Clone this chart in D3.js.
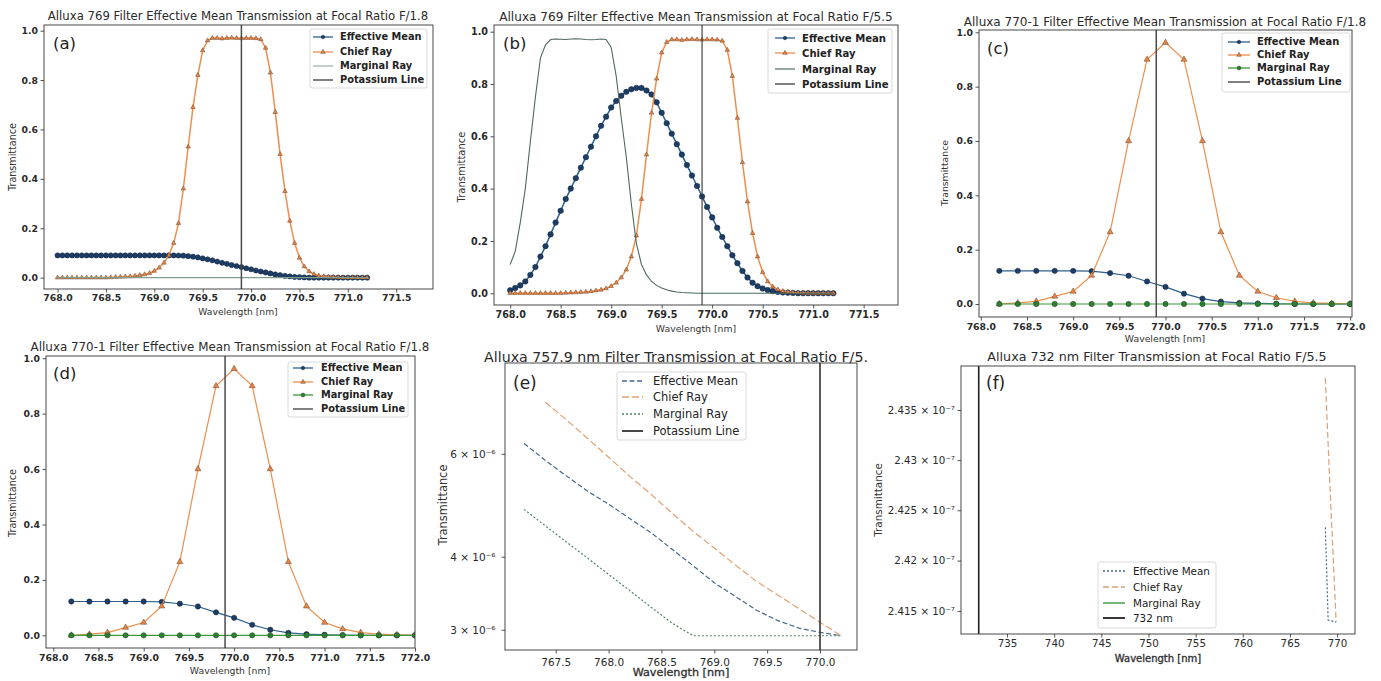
<!DOCTYPE html>
<html><head><meta charset="utf-8">
<script src="https://cdn.jsdelivr.net/npm/d3@7"></script>
<style>
body{margin:0;background:#fff}
svg{display:block;font-family:"DejaVu Sans",sans-serif}
</style>
</head><body>
<svg id="c" width="1381" height="681"></svg>
<script>
// ---------------- DATA ----------------
const wlAB = [
 768.00,768.05,768.10,768.15,768.20,768.25,768.30,768.35,768.40,768.45,
 768.50,768.55,768.60,768.65,768.70,768.75,768.80,768.85,768.90,768.95,
 769.00,769.05,769.10,769.15,769.20,769.25,769.30,769.35,769.40,769.45,
 769.50,769.55,769.60,769.65,769.70,769.75,769.80,769.85,769.90,769.95,
 770.00,770.05,770.10,770.15,770.20,770.25,770.30,770.35,770.40,770.45,
 770.50,770.55,770.60,770.65,770.70,770.75,770.80,770.85,770.90,770.95,
 771.00,771.05,771.10,771.15,771.20];
const chiefAB = [
 0,0,0,0,0,0,0,0,0,0,
 0,0.001,0.002,0.003,0.004,0.005,0.007,0.010,0.013,0.018,
 0.027,0.040,0.060,0.090,0.140,0.220,0.360,0.530,0.690,0.820,
 0.920,0.960,0.970,0.970,0.968,0.970,0.971,0.970,0.969,0.970,
 0.970,0.969,0.965,0.930,0.830,0.670,0.500,0.350,0.230,0.140,
 0.080,0.045,0.025,0.014,0.008,0.005,0.003,0.002,0.001,0,
 0,0,0,0,0];
const effA = [
 0.090,0.090,0.090,0.090,0.090,0.090,0.090,0.090,0.090,0.090,
 0.090,0.090,0.090,0.090,0.090,0.090,0.090,0.090,0.090,0.090,
 0.090,0.090,0.090,0.090,0.090,0.0895,0.089,0.087,0.085,0.082,
 0.078,0.074,0.070,0.065,0.060,0.056,0.051,0.047,0.043,0.038,
 0.034,0.029,0.025,0.021,0.017,0.013,0.010,0.007,0.005,0.003,
 0.002,0.001,0,0,0,0,0,0,0,0,
 0,0,0,0,0];
const margA = [
 0,0,0,0,0,0,0,0,0,0,
 0,0,0,0,0,0,0,0,0,0,
 0,0,0,0,0,0,0,0,0,0,
 0,0,0,0,0,0,0,0,0,0,
 0,0,0,0,0,0,0,0,0,0,
 0,0,0,0,0,0,0,0,0,0,
 0,0,0,0,0];
const effB = [
 0.011,0.020,0.030,0.045,0.070,0.100,0.140,0.180,0.225,0.270,
 0.315,0.360,0.400,0.440,0.480,0.520,0.560,0.600,0.640,0.675,
 0.710,0.735,0.755,0.770,0.780,0.785,0.785,0.775,0.760,0.730,
 0.690,0.650,0.610,0.570,0.530,0.490,0.450,0.410,0.370,0.330,
 0.290,0.250,0.215,0.180,0.145,0.115,0.085,0.060,0.040,0.027,
 0.018,0.012,0.008,0.005,0.003,0.002,0.001,0,0,0,
 0,0,0,0,0];
const margB = [
 0.110,0.160,0.270,0.400,0.580,0.750,0.900,0.950,0.970,0.972,
 0.971,0.970,0.972,0.973,0.972,0.970,0.969,0.970,0.972,0.970,
 0.940,0.830,0.670,0.520,0.340,0.190,0.110,0.070,0.045,0.030,
 0.020,0.013,0.008,0.005,0.003,0.002,0.001,0,0,0,
 0,0,0,0,0,0,0,0,0,0,
 0,0,0,0,0,0,0,0,0,0,
 0,0,0,0,0];

const wlCD = [768.2,768.4,768.6,768.8,769.0,769.2,769.4,769.6,769.8,770.0,
              770.2,770.4,770.6,770.8,771.0,771.2,771.4,771.6,771.8,772.0];
const chiefCD = [0.000,0.004,0.010,0.028,0.046,0.105,0.265,0.600,0.900,0.962,
                 0.900,0.600,0.265,0.105,0.046,0.023,0.010,0.004,0.002,0.001];
const effCD   = [0.122,0.122,0.122,0.122,0.122,0.121,0.114,0.104,0.083,0.063,
                 0.038,0.020,0.009,0.004,0.002,0.001,0,0,0,0];
const margCD  = [0,0,0,0,0,0,0,0,0,0, 0,0,0,0,0,0,0,0,0,0];

const wlE = [767.2,767.4,767.6,767.8,768.0,768.2,768.4,768.6,768.8,769.0,769.2,769.4,769.6,769.8,770.0,770.2];
const chiefE = [null,7.36e-6,6.86e-6,6.38e-6,5.92e-6,5.49e-6,5.12e-6,4.75e-6,4.42e-6,4.14e-6,3.87e-6,3.63e-6,3.44e-6,3.26e-6,3.09e-6,2.93e-6];
const effE   = [6.25e-6,5.85e-6,5.50e-6,5.18e-6,4.92e-6,4.65e-6,4.40e-6,4.12e-6,3.86e-6,3.61e-6,3.42e-6,3.24e-6,3.11e-6,3.02e-6,2.97e-6,2.93e-6];
const margE  = [4.82e-6,4.52e-6,4.24e-6,3.98e-6,3.73e-6,3.50e-6,3.28e-6,3.08e-6,2.93e-6,2.93e-6,2.93e-6,2.93e-6,2.93e-6,2.93e-6,2.93e-6,2.93e-6];

const wlFEff = [768.75,768.9,769.05,769.9];
const effF   = [2.4233e-7,2.4190e-7,2.4141e-7,2.4139e-7];
const wlFChief = [768.75,769.3,769.9];
const chiefF   = [2.4382e-7,2.4262e-7,2.4139e-7];

const potassiumNm = 769.9;
const potassiumE = 770.0;
const lineF = 732;

const ticksXAB = [768.0,768.5,769.0,769.5,770.0,770.5,771.0,771.5];
const ticksXCD = [768.0,768.5,769.0,769.5,770.0,770.5,771.0,771.5,772.0];
const ticksY01 = [0,0.2,0.4,0.6,0.8,1.0];
const ticksXE = [767.5,768.0,768.5,769.0,769.5,770.0];
const ticksYE = [3e-6,4e-6,6e-6];
const ticksYELabels = ["3 × 10⁻⁶","4 × 10⁻⁶","6 × 10⁻⁶"];
const ticksXF = [735,740,745,750,755,760,765,770];
const ticksYF = [2.415e-7,2.42e-7,2.425e-7,2.43e-7,2.435e-7];
const ticksYFLabels = ["2.415 × 10⁻⁷","2.42 × 10⁻⁷","2.425 × 10⁻⁷","2.43 × 10⁻⁷","2.435 × 10⁻⁷"];

const legendABCD = ["Effective Mean","Chief Ray","Marginal Ray","Potassium Line"];
const legendF = ["Effective Mean","Chief Ray","Marginal Ray","732 nm"];

// ---------------- STYLES ----------------
const C = {
  blue:"#2d5f8f", blueM:"#1d3d64", blueMS:"#0f2440",
  orange:"#ec8f4e", orangeM:"#e58545", orangeMS:"#6e4530",
  green:"#3a9a3a", greenM:"#2e7d32", greenMS:"#1b4d1e",
  k:"#4a4a4a"
};

const svg = d3.select("#c");
let clipN = 0;

function drawPanel(p) {
  const [bx0, by0, bx1, by1] = p.box;
  const g = svg.append("g");
  const x = d3.scaleLinear().domain(p.xDomain).range([bx0, bx1]);
  const y = (p.log ? d3.scaleLog() : d3.scaleLinear()).domain(p.yDomain).range([by1, by0]);
  const cid = "clip" + (clipN++);
  svg.append("clipPath").attr("id", cid).append("rect")
    .attr("x", bx0).attr("y", by0).attr("width", bx1 - bx0).attr("height", by1 - by0);
  const plot = g.append("g").attr("clip-path", `url(#${cid})`);

  p.series.forEach(s => {
    const pts = s.x.map((xv, i) => [xv, s.y[i]]);
    const line = d3.line().defined(d => d[1] != null).x(d => x(d[0])).y(d => y(d[1]));
    plot.append("path").attr("d", line(pts)).attr("fill", "none")
      .attr("stroke", s.color).attr("stroke-width", s.width)
      .attr("stroke-dasharray", s.dash || null);
    if (s.marker) {
      const sym = d3.symbol().type(s.marker === "tri" ? d3.symbolTriangle : d3.symbolCircle).size(s.msize);
      plot.selectAll(null).data(pts.filter(d => d[1] != null)).enter().append("path")
        .attr("transform", d => `translate(${x(d[0])},${y(d[1])})`)
        .attr("d", sym).attr("fill", s.mfill).attr("stroke", s.mstroke).attr("stroke-width", 0.5);
    }
  });
  if (p.vline) {
    plot.append("line").attr("x1", x(p.vline.x)).attr("x2", x(p.vline.x))
      .attr("y1", by0).attr("y2", by1).attr("stroke", p.vline.color).attr("stroke-width", p.vline.width);
  }

  // axes
  const xa = d3.axisBottom(x).tickValues(p.xTicks).tickFormat(p.xFmt).tickSize(3.5).tickPadding(p.xPad);
  const gx = g.append("g").attr("transform", `translate(0,${by1})`).call(xa);
  const ya = d3.axisLeft(y).tickValues(p.yTicks).tickFormat(p.yFmt).tickSize(3.5).tickPadding(p.yPad);
  const gy = g.append("g").attr("transform", `translate(${bx0},0)`).call(ya);
  [gx, gy].forEach(a => {
    a.select(".domain").remove();
    a.attr("font-family", null).attr("font-size", p.tickFs).attr("font-weight", p.tickFw)
      .attr("color", "#2a2a2a");
    a.selectAll("line").attr("stroke-width", 0.8);
  });
  // frame
  g.append("rect").attr("x", bx0).attr("y", by0).attr("width", bx1 - bx0).attr("height", by1 - by0)
    .attr("fill", "none").attr("stroke", "#333").attr("stroke-width", 0.9);

  // title & labels
  g.append("text").attr("x", p.title.x).attr("y", p.title.y).attr("text-anchor", "middle")
    .attr("font-size", p.title.fs).attr("fill", "#2a2a2a").text(p.title.text);
  g.append("text").attr("x", p.xlabel.x).attr("y", p.xlabel.y).attr("dy", "0.35em").attr("text-anchor", "middle")
    .attr("font-size", p.xlabel.fs).attr("fill", "#333")
    .attr("stroke", p.xlabel.heavy ? "#333" : null).attr("stroke-width", p.xlabel.heavy ? 0.35 : null)
    .text("Wavelength [nm]");
  g.append("text").attr("transform", `translate(${p.ylabel.x},${p.ylabel.y}) rotate(-90)`)
    .attr("dy", "0.35em").attr("text-anchor", "middle")
    .attr("font-size", p.ylabel.fs).attr("fill", "#333").text("Transmittance");
  g.append("text").attr("x", p.tag.x).attr("y", p.tag.y).attr("font-size", p.tag.fs).attr("fill", "#222").text(p.tag.text);

  // legend
  const L = p.legend;
  g.append("rect").attr("x", L.box[0]).attr("y", L.box[1]).attr("width", L.box[2]).attr("height", L.box[3])
    .attr("rx", 2).attr("fill", "#fff").attr("fill-opacity", 0.85).attr("stroke", "#cfcfcf").attr("stroke-width", 0.8);
  L.items.forEach((it, i) => {
    const ry = L.rows[i];
    g.append("line").attr("x1", L.hx[0]).attr("x2", L.hx[1]).attr("y1", ry).attr("y2", ry)
      .attr("stroke", it.color).attr("stroke-width", it.width).attr("stroke-dasharray", it.dash || null);
    if (it.marker) {
      const sym = d3.symbol().type(it.marker === "tri" ? d3.symbolTriangle : d3.symbolCircle).size(it.msize);
      g.append("path").attr("transform", `translate(${(L.hx[0] + L.hx[1]) / 2},${ry})`)
        .attr("d", sym).attr("fill", it.mfill).attr("stroke", it.mstroke).attr("stroke-width", 0.5);
    }
    g.append("text").attr("x", L.tx).attr("y", ry).attr("dy", "0.35em")
      .attr("font-size", L.fs).attr("font-weight", L.fw).attr("fill", "#222").text(it.label);
  });
}

const f1 = d3.format(".1f");
const f0 = d3.format("d");

function abcdSeries(wl, eff, chief, marg, opt) {
  return [
    {x: wl, y: eff, color: C.blue, width: opt.lw, marker: "circ", msize: opt.cs, mfill: C.blueM, mstroke: C.blueMS},
    {x: wl, y: chief, color: C.orange, width: opt.lw, marker: "tri", msize: opt.ts, mfill: C.orangeM, mstroke: C.orangeMS},
    opt.margMarker
      ? {x: wl, y: marg, color: C.green, width: opt.lw, marker: "circ", msize: opt.cs, mfill: C.greenM, mstroke: C.greenMS}
      : {x: wl, y: marg, color: opt.margColor, width: 1.1}
  ];
}
function abcdLegend(opt) {
  return [
    {label: legendABCD[0], color: C.blue, width: 1.3, marker: "circ", msize: 10, mfill: C.blueM, mstroke: C.blueMS},
    {label: legendABCD[1], color: C.orange, width: 1.3, marker: "tri", msize: 9, mfill: C.orangeM, mstroke: C.orangeMS},
    opt.margMarker
      ? {label: legendABCD[2], color: C.green, width: 1.3, marker: "circ", msize: 12, mfill: C.greenM, mstroke: C.greenMS}
      : {label: legendABCD[2], color: opt.margColor, width: 1.2},
    {label: legendABCD[3], color: C.k, width: 1.4}
  ];
}

// (a)
drawPanel({
  box: [44, 25, 433, 289], xDomain: [767.86, 771.88], yDomain: [-0.046, 1.023],
  xTicks: ticksXAB, yTicks: ticksY01, xFmt: f1, yFmt: f1, xPad: 2.1, yPad: 2.5, tickFs: 9.3, tickFw: "bold",
  series: abcdSeries(wlAB, effA, chiefAB, margA, {lw: 1.5, cs: 21, ts: 9, margMarker: false, margColor: "#7f9f8f"}),
  vline: {x: potassiumNm, color: C.k, width: 1.5},
  title: {x: 238, y: 20.3, fs: 11.7, text: "Alluxa 769 Filter Effective Mean Transmission at Focal Ratio F/1.8"},
  xlabel: {x: 238, y: 312, fs: 9.2},
  ylabel: {x: 13, y: 157, fs: 9.6},
  tag: {x: 53, y: 49, fs: 16.5, text: "(a)"},
  legend: {box: [310, 29, 117, 59], rows: [37, 52, 66, 80], hx: [313, 333], tx: 340, fs: 9.8, fw: "bold",
    items: abcdLegend({margMarker: false, margColor: "#9fb0a8"})}
});

// (b)
drawPanel({
  box: [494, 25, 898, 305], xDomain: [767.84, 771.84], yDomain: [-0.045, 1.0256],
  xTicks: ticksXAB, yTicks: ticksY01, xFmt: f1, yFmt: f1, xPad: 3.1, yPad: 2.5, tickFs: 9.6, tickFw: "bold",
  series: abcdSeries(wlAB, effB, chiefAB, margB, {lw: 1.5, cs: 24, ts: 9, margMarker: false, margColor: "#4f6a5c"}),
  vline: {x: potassiumNm, color: "#333", width: 1.1},
  title: {x: 696, y: 20.5, fs: 12.1, text: "Alluxa 769 Filter Effective Mean Transmission at Focal Ratio F/5.5"},
  xlabel: {x: 696, y: 329, fs: 9.3},
  ylabel: {x: 461, y: 167, fs: 10},
  tag: {x: 503, y: 49, fs: 16.5, text: "(b)"},
  legend: {box: [768, 29, 124, 64], rows: [38, 53, 69, 84], hx: [775, 795], tx: 802, fs: 10.1, fw: "bold",
    items: abcdLegend({margMarker: false, margColor: "#4f6a5c"})}
});

// (c)
drawPanel({
  box: [979, 30, 1352, 317], xDomain: [767.98, 772.02], yDomain: [-0.0478, 1.0085],
  xTicks: ticksXCD, yTicks: ticksY01, xFmt: f1, yFmt: f1, xPad: 2.8, yPad: 2.5, tickFs: 9.3, tickFw: "bold",
  series: abcdSeries(wlCD, effCD, chiefCD, margCD, {lw: 1.2, cs: 22, ts: 16, margMarker: true}),
  vline: {x: potassiumNm, color: C.k, width: 1.5},
  title: {x: 1165, y: 26, fs: 12, text: "Alluxa 770-1 Filter Effective Mean Transmission at Focal Ratio F/1.8"},
  xlabel: {x: 1165, y: 339, fs: 9.3},
  ylabel: {x: 945, y: 173, fs: 9.3},
  tag: {x: 987, y: 54, fs: 16.5, text: "(c)"},
  legend: {box: [1222, 33, 128, 59], rows: [42, 55, 68, 82], hx: [1228, 1250], tx: 1257, fs: 9.9, fw: "bold",
    items: abcdLegend({margMarker: true})}
});

// (d)
drawPanel({
  box: [46, 356, 415, 648], xDomain: [767.92, 772.0], yDomain: [-0.0458, 1.008],
  xTicks: ticksXCD, yTicks: ticksY01, xFmt: f1, yFmt: f1, xPad: 2.8, yPad: 2.5, tickFs: 9.3, tickFw: "bold",
  series: abcdSeries(wlCD, effCD, chiefCD, margCD, {lw: 1.2, cs: 22, ts: 16, margMarker: true}),
  vline: {x: potassiumNm, color: C.k, width: 1.5},
  title: {x: 230, y: 351, fs: 11.9, text: "Alluxa 770-1 Filter Effective Mean Transmission at Focal Ratio F/1.8"},
  xlabel: {x: 230, y: 671, fs: 9.3},
  ylabel: {x: 13, y: 503, fs: 9.6},
  tag: {x: 53, y: 379, fs: 16.5, text: "(d)"},
  legend: {box: [288, 362, 120, 55], rows: [368, 382, 395, 409], hx: [293, 313], tx: 321, fs: 9.8, fw: "bold",
    items: abcdLegend({margMarker: true})}
});

// (e)
drawPanel({
  box: [505, 363, 857, 650], xDomain: [767.02, 770.35], yDomain: [2.77e-6, 8.58e-6], log: true,
  xTicks: ticksXE, yTicks: ticksYE, xFmt: f1, yFmt: (d, i) => ticksYELabels[i], xPad: 4.8, yPad: 6, tickFs: 10.5, tickFw: "normal",
  series: [
    {x: wlE, y: effE, color: "#46698c", width: 1.2, dash: "5,2.5"},
    {x: wlE, y: chiefE, color: "#e3a070", width: 1.2, dash: "7,3"},
    {x: wlE, y: margE, color: "#4f8463", width: 1.2, dash: "2,2"}
  ],
  vline: {x: potassiumE, color: "#333", width: 1.6},
  title: {x: 676, y: 361.5, fs: 14.2, text: "Alluxa 757.9 nm Filter Transmission at Focal Ratio F/5."},
  xlabel: {x: 681, y: 672, fs: 11.2, heavy: true},
  ylabel: {x: 443, y: 505, fs: 11.4},
  tag: {x: 513, y: 389, fs: 17, text: "(e)"},
  legend: {box: [617, 372, 129, 68], rows: [381, 397, 414, 431], hx: [622, 643], tx: 653, fs: 11.5, fw: "normal",
    items: [
      {label: legendABCD[0], color: "#46698c", width: 1.4, dash: "5,2.5"},
      {label: legendABCD[1], color: "#e3a070", width: 1.4, dash: "7,3"},
      {label: legendABCD[2], color: "#4f8463", width: 1.4, dash: "2,2"},
      {label: legendABCD[3], color: "#333", width: 1.8}
    ]}
});

// (f)
drawPanel({
  box: [961, 366, 1355, 634], xDomain: [730.12, 771.9], yDomain: [2.41272e-7, 2.4394e-7], log: true,
  xTicks: ticksXF, yTicks: ticksYF, xFmt: f0, yFmt: (d, i) => ticksYFLabels[i], xPad: 1.8, yPad: 2.5, tickFs: 10.3, tickFw: "normal",
  series: [
    {x: wlFEff, y: effF, color: "#46698c", width: 1.2, dash: "2,2"},
    {x: wlFChief, y: chiefF, color: "#d9a07a", width: 1.2, dash: "6,3"}
  ],
  vline: {x: lineF, color: "#222", width: 1.6},
  title: {x: 1157, y: 361, fs: 12.7, text: "Alluxa 732 nm Filter Transmission at Focal Ratio F/5.5"},
  xlabel: {x: 1158, y: 658, fs: 10, heavy: true},
  ylabel: {x: 878, y: 500, fs: 10.4},
  tag: {x: 986, y: 389, fs: 17, text: "(f)"},
  legend: {box: [1098, 562, 118, 66], rows: [571, 587, 603, 618], hx: [1103, 1125], tx: 1133, fs: 10.4, fw: "normal",
    items: [
      {label: legendF[0], color: "#46698c", width: 1.4, dash: "2,2"},
      {label: legendF[1], color: "#d9a07a", width: 1.4, dash: "6,3"},
      {label: legendF[2], color: C.green, width: 1.4},
      {label: legendF[3], color: "#222", width: 1.8}
    ]}
});
</script>
</body></html>
